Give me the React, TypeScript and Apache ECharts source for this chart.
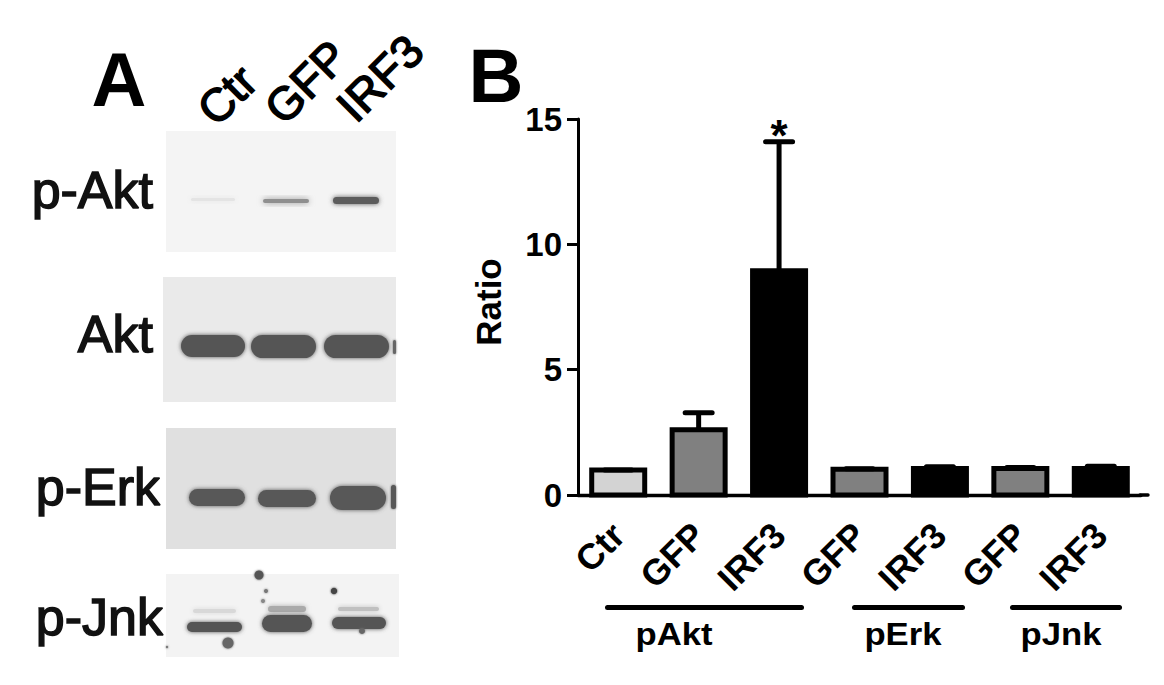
import React, { useEffect, useRef } from "react";
import * as echarts from "echarts";

const categories = ["Ctr", "GFP", "IRF3", "GFP", "IRF3", "GFP", "IRF3"];
const means = [1.0, 2.6, 8.95, 1.03, 1.06, 1.06, 1.06];
const upperErrors = [1.0, 3.28, 14.09, 1.05, 1.125, 1.1, 1.15];
const barColors = ["#d3d3d3", "#808080", "#000000", "#808080", "#000000", "#808080", "#000000"];
const yTicks = { min: 0, max: 15, interval: 5 };

const FONT = '"Liberation Sans", Arial, sans-serif';
const BASE = 0.35; // distance from a font's central line to its baseline, in em

// Panel A: the western-blot picture, drawn as blurred shapes
const blotPanels = [
  { x: 166, y: 131, w: 230, h: 121, fill: "#f4f4f4" },
  { x: 163, y: 277, w: 233, h: 125, fill: "#eaeaea" },
  { x: 166, y: 428, w: 230, h: 121, fill: "#e0e0e0" },
  { x: 166, y: 574, w: 233, h: 83, fill: "#f3f3f3" },
];
const blotBands = [
  { x: 191, y: 198, w: 44, h: 3, fill: "#e4e4e4", blur: 6 },
  { x: 263, y: 199, w: 46, h: 4, fill: "#8f8f8f", blur: 6 },
  { x: 333, y: 197, w: 46, h: 7, fill: "#5c5c5c", blur: 5 },
  { x: 181, y: 335, w: 64, h: 22, fill: "#555555", blur: 4 },
  { x: 251, y: 335, w: 65, h: 23, fill: "#555555", blur: 4 },
  { x: 324, y: 335, w: 65, h: 23, fill: "#555555", blur: 4 },
  { x: 393, y: 340, w: 3, h: 14, fill: "#666666", blur: 2 },
  { x: 189, y: 489, w: 56, h: 17, fill: "#585858", blur: 4 },
  { x: 258, y: 490, w: 58, h: 17, fill: "#585858", blur: 4 },
  { x: 330, y: 486, w: 56, h: 24, fill: "#585858", blur: 4 },
  { x: 391, y: 485, w: 5, h: 24, fill: "#585858", blur: 2 },
  { x: 193, y: 609, w: 43, h: 4, fill: "#d8d8d8", blur: 5 },
  { x: 268, y: 606, w: 38, h: 6, fill: "#aaaaaa", blur: 5 },
  { x: 338, y: 607, w: 41, h: 4, fill: "#c0c0c0", blur: 5 },
  { x: 187, y: 622, w: 55, h: 10, fill: "#555555", blur: 4 },
  { x: 262, y: 615, w: 50, h: 17, fill: "#555555", blur: 4 },
  { x: 332, y: 617, w: 54, h: 12, fill: "#555555", blur: 4 },
];
const blotSpots = [
  { x: 228, y: 643, r: 5.5, fill: "#666666" },
  { x: 259, y: 575, r: 4.5, fill: "#555555" },
  { x: 266, y: 591, r: 2, fill: "#777777" },
  { x: 263, y: 601, r: 2, fill: "#888888" },
  { x: 334, y: 591, r: 3.2, fill: "#444444" },
  { x: 167, y: 647, r: 1.2, fill: "#777777" },
  { x: 362, y: 631, r: 3, fill: "#666666" },
];
const blotRowLabels = [
  { text: "p-Akt", right: 153, baseline: 208 },
  { text: "Akt", right: 153, baseline: 352 },
  { text: "p-Erk", right: 160, baseline: 505 },
  { text: "p-Jnk", right: 163, baseline: 635 },
];
const laneLabels = [
  { text: "Ctr", x: 227, y: 95 },
  { text: "GFP", x: 306, y: 82 },
  { text: "IRF3", x: 380, y: 78 },
];
const groupBrackets = [
  { text: "pAkt", x1: 607.5, x2: 801.5, cx: 674 },
  { text: "pErk", x1: 854.5, x2: 962.5, cx: 903 },
  { text: "pJnk", x1: 1012.5, x2: 1119.5, cx: 1061 },
];

function buildGraphics() {
  const els: any[] = [];
  blotPanels.forEach((p) =>
    els.push({ type: "rect", shape: { x: p.x, y: p.y, width: p.w, height: p.h }, style: { fill: p.fill } })
  );
  blotBands.forEach((b) =>
    els.push({
      type: "rect",
      shape: { x: b.x, y: b.y, width: b.w, height: b.h, r: b.h / 2 },
      style: { fill: b.fill, shadowColor: b.fill, shadowBlur: b.blur },
    })
  );
  blotSpots.forEach((s) =>
    els.push({
      type: "circle",
      shape: { cx: s.x, cy: s.y, r: s.r },
      style: { fill: s.fill, shadowColor: s.fill, shadowBlur: 2 },
    })
  );
  blotRowLabels.forEach((l) =>
    els.push({
      type: "text",
      x: l.right,
      y: l.baseline - 52 * BASE,
      style: {
        text: l.text,
        font: `52px ${FONT}`,
        fill: "#111",
        stroke: "#111",
        lineWidth: 1.5,
        textAlign: "right",
        verticalAlign: "middle",
      },
    })
  );
  laneLabels.forEach((l) =>
    els.push({
      type: "text",
      x: l.x,
      y: l.y,
      rotation: Math.PI / 4,
      style: {
        text: l.text,
        font: `46px ${FONT}`,
        fill: "#000",
        stroke: "#000",
        lineWidth: 1.5,
        textAlign: "center",
        verticalAlign: "middle",
      },
    })
  );
  els.push({
    type: "text",
    x: 119,
    y: 106 - 76 * BASE,
    style: { text: "A", font: `bold 76px ${FONT}`, fill: "#000", textAlign: "center", verticalAlign: "middle" },
  });
  els.push({
    type: "text",
    x: 496,
    y: 102 - 76 * BASE,
    style: { text: "B", font: `bold 76px ${FONT}`, fill: "#000", textAlign: "center", verticalAlign: "middle" },
  });
  els.push({
    type: "line",
    shape: { x1: 1140, y1: 495, x2: 1148, y2: 495 },
    style: { stroke: "#000", lineWidth: 3.4, lineCap: "round" },
  });
  els.push({
    type: "text",
    x: 779,
    y: 135.5,
    style: { text: "*", font: `bold 44px ${FONT}`, fill: "#000", textAlign: "center", verticalAlign: "middle" },
  });
  groupBrackets.forEach((g) => {
    els.push({
      type: "line",
      shape: { x1: g.x1, y1: 607.5, x2: g.x2, y2: 607.5 },
      style: { stroke: "#000", lineWidth: 5, lineCap: "round" },
    });
    els.push({
      type: "text",
      x: g.cx,
      y: 645 - 31 * BASE,
      scaleX: 1.12,
      style: { text: g.text, font: `bold 31px ${FONT}`, fill: "#000", textAlign: "center", verticalAlign: "middle" },
    });
  });
  return els;
}

export default function App() {
  const ref = useRef<HTMLDivElement>(null);
  useEffect(() => {
    document.body.style.margin = "0";
    document.body.style.background = "#fff";
    const chart = echarts.init(ref.current!, undefined, { renderer: "svg", width: 1164, height: 685 });
    const axisFont = { fontFamily: FONT, fontWeight: "bold" as const, color: "#000" };
    const BAR_W = 53;
    chart.setOption({
      animation: false,
      backgroundColor: "#fff",
      grid: { left: 578, top: 119, width: 563, height: 376, containLabel: false },
      xAxis: {
        type: "category",
        data: categories,
        axisLine: { lineStyle: { color: "#000", width: 3.4 } },
        axisTick: { alignWithLabel: true, length: 11, lineStyle: { color: "#000", width: 3 } },
        axisLabel: { ...axisFont, fontSize: 36, rotate: 45, margin: 34, interval: 0 },
      },
      yAxis: {
        type: "value",
        min: yTicks.min,
        max: yTicks.max,
        interval: yTicks.interval,
        name: "Ratio",
        nameLocation: "middle",
        nameGap: 72,
        nameRotate: 90,
        nameTextStyle: { ...axisFont, fontSize: 35, padding: [0, 0, 0, 10] },
        splitLine: { show: false },
        axisLine: { show: true, lineStyle: { color: "#000", width: 3 } },
        axisTick: { show: true, length: 11, lineStyle: { color: "#000", width: 3 } },
        axisLabel: { ...axisFont, fontSize: 33, margin: 16 },
      },
      series: [
        {
          type: "bar",
          z: 2,
          barWidth: BAR_W,
          data: means.map((v, i) => ({ value: v, itemStyle: { color: barColors[i] } })),
        },
        {
          // outline centred on the bar edge, error stem and cap
          type: "custom",
          z: 3,
          data: categories.map((_, i) => [i, means[i], upperErrors[i]]),
          encode: { x: 0, y: [1, 2] },
          renderItem: (_: any, api: any) => {
            const low = api.coord([api.value(0), api.value(1)]);
            const high = api.coord([api.value(0), api.value(2)]);
            const zero = api.coord([api.value(0), 0]);
            const style = { stroke: "#000", lineWidth: 5 };
            return {
              type: "group",
              children: [
                {
                  type: "rect",
                  shape: { x: low[0] - BAR_W / 2, y: low[1], width: BAR_W, height: zero[1] - low[1] },
                  style: { ...style, fill: "none" },
                },
                { type: "line", shape: { x1: low[0], y1: low[1], x2: high[0], y2: high[1] }, style },
                {
                  type: "line",
                  shape: { x1: high[0] - 13.5, y1: high[1], x2: high[0] + 13.5, y2: high[1] },
                  style: { ...style, lineCap: "round" },
                },
              ],
            };
          },
        },
      ],
      graphic: { elements: buildGraphics() },
    });
    return () => chart.dispose();
  }, []);
  return <div ref={ref} style={{ width: 1164, height: 685, position: "absolute", left: 0, top: 0 }} />;
}
